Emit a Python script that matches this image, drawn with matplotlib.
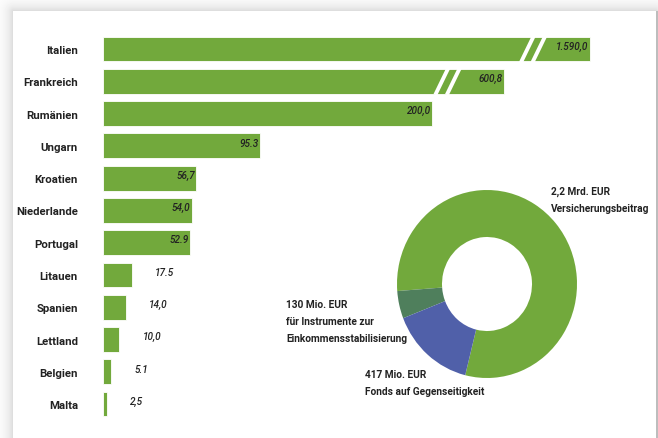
import numpy as np
from matplotlib import pyplot as plt

## data
countries = ['Italien', 'Frankreich', 'Rumänien', 'Ungarn', 'Kroatien', 'Niederlande',
             'Portugal', 'Litauen', 'Spanien', 'Lettland', 'Belgien', 'Malta']
values = [1590.0, 600.8, 200.0, 95.3, 56.7, 54.0, 52.9, 17.5, 14.0, 10.0, 5.1, 2.5]
value_labels = ['1.590,0', '600,8', '200,0', '95.3', '56,7', '54,0', '52.9',
                '17.5', '14,0', '10,0', '5.1', '2,5']
# bars that are drawn cut (axis break) and the length they are shown with
cut_at = {'Italien': 296.0, 'Frankreich': 244.0}

donut_values = [2200, 130, 417]   # Mio. EUR
donut_labels = ['2,2 Mrd. EUR\nVersicherungsbeitrag',
                '130 Mio. EUR\nfür Instrumente zur\nEinkommensstabilisierung',
                '417 Mio. EUR\nFonds auf Gegenseitigkeit']

GREEN = '#72a93c'
DONUT_COLORS = [GREEN, '#4f7f5c', '#5060a9']
TXT = '#222222'
FONT = ['Roboto', 'DejaVu Sans']

W, H = 658, 439
fig = plt.figure(figsize=(W / 100, H / 100), dpi=100)

## background card with soft shadow
bg = fig.add_axes([0, 0, 1, 1])
yy, xx = np.mgrid[0:H, 0:W]
x0, x1, y0 = 13, 655, 12
dx = np.maximum(np.maximum(x0 - xx, xx - x1), 0)
dy = np.maximum(y0 - yy, 0)
d = np.hypot(dx, dy)
img = 1 - 0.15 * np.exp(-d / 7.0)
img[(xx >= x0) & (xx <= x1) & (yy >= y0)] = 1.0
img[(xx > x1) & (yy >= y0)] = 0.74
bg.imshow(img, cmap='gray', vmin=0, vmax=1, aspect='auto', interpolation='bilinear')
bg.axis('off')

## bar chart
px = 1.645  # pixels per unit
xmax = 330
ax = fig.add_axes([103 / W, 1 - 421.2 / H, xmax * px / W, (421.2 - 33.9) / H])
shown = [cut_at.get(c, v) for c, v in zip(countries, values)]
ypos = np.arange(len(countries))
ax.barh(ypos, shown, height=0.77, color=GREEN, edgecolor='white', linewidth=0.6)
ax.set_xlim(0, xmax)
ax.set_ylim(len(countries) - 0.5, -0.5)
ax.set_yticks(ypos)
ax.set_yticklabels(countries, fontsize=8.2, fontweight='bold', color=TXT, family=FONT)
ax.tick_params(axis='y', length=0, pad=18)
ax.set_xticks([])
for s in ax.spines.values():
    s.set_visible(False)
ax.patch.set_alpha(0)

# axis-break marks
for i, c in enumerate(countries):
    if c in cut_at:
        xb = cut_at[c] - 38
        for off in (0, 7):
            ax.plot([xb + off - 4, xb + off + 4], [i + 0.42, i - 0.42],
                    color='white', lw=2.8, solid_capstyle='butt')

# value labels
for i, (s, lab) in enumerate(zip(shown, value_labels)):
    if s > 40:
        ax.text(s - 0.8, i - 0.1, lab, ha='right', va='center', fontsize=7.2,
                style='italic', fontweight='medium', color=TXT, family=FONT)
    else:
        ax.text(s + 14, i - 0.1, lab, ha='left', va='center', fontsize=7.2,
                style='italic', fontweight='medium', color=TXT, family=FONT)

## donut
cx, cy, rx, ry = 487, 285, 90, 94
dax = fig.add_axes([(cx - rx) / W, 1 - (cy + ry) / H, 2 * rx / W, 2 * ry / H])
dax.pie(donut_values, colors=DONUT_COLORS, startangle=256, counterclock=True,
        wedgeprops=dict(width=0.5, edgecolor='none'))
dax.set_aspect('auto')
dax.set_xlim(-1, 1)
dax.set_ylim(-1, 1)

label_pos = [(551, 187), (286, 300), (365, 370)]
for lab, (lx, ly) in zip(donut_labels, label_pos):
    fig.text(lx / W, 1 - ly / H, lab, ha='left', va='top', fontsize=7.3,
             fontweight='bold', color=TXT, family=FONT, linespacing=1.85)

fig.savefig('out.png', dpi=100)
